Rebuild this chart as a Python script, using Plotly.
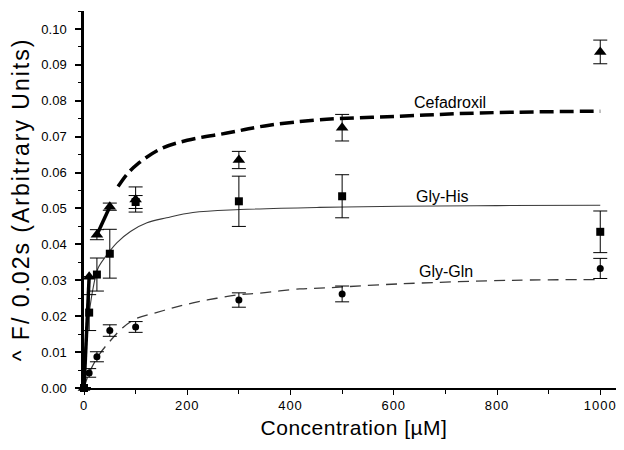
import plotly.graph_objects as go

# ---------------- data ----------------
conc = [0, 10, 25, 50, 100, 300, 500, 1000]

cef = [0.0, 0.031, 0.0427, 0.0505, 0.0525, 0.0635, 0.0725, 0.0936]
cef_err = [0, 0, 0.0014, 0.0010, 0.0035, 0.0024, 0.0037, 0.0033]

his = [0.0, 0.021, 0.0316, 0.0374, 0.0518, 0.0520, 0.0534, 0.0435]
his_err = [0, 0.0050, 0.0046, 0.0068, 0.0018, 0.0070, 0.0060, 0.0058]

gln = [0.0, 0.0042, 0.0087, 0.0160, 0.0170, 0.0245, 0.0262, 0.0333]
gln_err = [0, 0.0012, 0.0014, 0.0016, 0.0015, 0.0020, 0.0022, 0.0028]

# fitted curves
cef_fit_x = [66, 83, 103, 147, 200, 277, 350, 456, 611, 766, 1000]
cef_fit_y = [0.0561, 0.0595, 0.0623, 0.0665, 0.0690, 0.0710, 0.0730, 0.0747, 0.0757, 0.0766, 0.0771]
cef_seg_x = [0, 10, None, 25, 50]
cef_seg_y = [0.0, 0.031, None, 0.0427, 0.0505]

his_fit_x = [0, 5, 10, 18, 27, 44, 64, 90, 122, 160, 211, 302, 456, 611, 800, 1000]
his_fit_y = [0.0, 0.0130, 0.0207, 0.0281, 0.0333, 0.0370, 0.0405, 0.0436, 0.0460, 0.0474,
             0.0489, 0.0497, 0.0503, 0.0506, 0.0508, 0.0509]

gln_fit_x = [0, 10, 29, 50, 75, 102, 140, 172, 211, 257, 302, 340, 418, 456, 611, 830, 1000]
gln_fit_y = [0.0, 0.0042, 0.0092, 0.0130, 0.0168, 0.0194, 0.0210, 0.0223, 0.0237, 0.0250,
             0.0260, 0.0264, 0.0276, 0.0278, 0.0290, 0.0300, 0.0302]

labels = ["Cefadroxil", "Gly-His", "Gly-Gln"]
label_x = [709, 694, 701]
label_y = [0.0796, 0.0534, 0.0324]

x_ticks = [0, 200, 400, 600, 800, 1000]
y_ticks = [0.00, 0.01, 0.02, 0.03, 0.04, 0.05, 0.06, 0.07, 0.08, 0.09, 0.10]

x_title = "Concentration [µM]"
y_title = "^ F/ 0.02s (Arbitrary Units)"

FONT = "Liberation Sans, Arial, sans-serif"

fig = go.Figure()

# fit lines
fig.add_trace(go.Scatter(x=gln_fit_x, y=gln_fit_y, mode="lines", line_shape="spline",
                         line=dict(color="#3a3a3a", width=1.3, dash="11px,7px"),
                         hoverinfo="skip", showlegend=False))
fig.add_trace(go.Scatter(x=his_fit_x, y=his_fit_y, mode="lines", line_shape="spline",
                         line=dict(color="#3a3a3a", width=1.1),
                         hoverinfo="skip", showlegend=False))
fig.add_trace(go.Scatter(x=cef_fit_x, y=cef_fit_y, mode="lines", line_shape="spline",
                         line=dict(color="black", width=3.5, dash="14px,6px"),
                         hoverinfo="skip", showlegend=False))
fig.add_trace(go.Scatter(x=cef_seg_x, y=cef_seg_y, mode="lines",
                         line=dict(color="black", width=3.5),
                         hoverinfo="skip", showlegend=False, cliponaxis=False))

# data points
def pts(y, err, symbol, size):
    return go.Scatter(x=conc, y=y, mode="markers",
                      marker=dict(symbol=symbol, size=size, color="black"),
                      error_y=dict(type="data", array=err, visible=True, color="black",
                                   thickness=1, width=7),
                      cliponaxis=False, showlegend=False)

fig.add_trace(pts(gln, gln_err, "circle", 7))
fig.add_trace(pts(his, his_err, "square", 8))
fig.add_trace(pts(cef, cef_err, "triangle-up", 11))

for t, lx, ly in zip(labels, label_x, label_y):
    fig.add_annotation(x=lx, y=ly, text=t, showarrow=False,
                       font=dict(family=FONT, size=16, color="black"))

# the page body adds an 8px margin, so the figure is 8px smaller and margins shifted
fig.update_layout(
    width=616, height=442,
    margin=dict(l=76, r=0, t=3, b=62, autoexpand=False),
    plot_bgcolor="white", paper_bgcolor="white",
    font=dict(family=FONT, color="black"),
)
fig.update_xaxes(range=[0, 1046], tickvals=x_ticks,
                 ticktext=[f'<span style="letter-spacing:1px">{v}</span>' for v in x_ticks],
                 automargin=False,
                 showgrid=False, zeroline=False, showline=True, linecolor="black", linewidth=1.5,
                 ticks="outside", ticklen=5, tickwidth=1, tickcolor="black",
                 minor=dict(dtick=100, ticks="outside", ticklen=4, tickcolor="black", tickwidth=1),
                 tickfont=dict(size=13),
                 title=dict(text=f'<span style="letter-spacing:0.5px">{x_title}</span>',
                            font=dict(size=21), standoff=8))
fig.update_yaxes(range=[0, 0.105], tickvals=y_ticks, ticktext=[f"{v:.2f}" for v in y_ticks],
                 automargin=False, ticklabelstandoff=6,
                 showgrid=False, zeroline=False, showline=True, linecolor="black", linewidth=2.5,
                 ticks="outside", ticklen=6, tickwidth=1.5, tickcolor="black",
                 minor=dict(dtick=0.005, ticks="outside", ticklen=3, tickcolor="black", tickwidth=1),
                 tickfont=dict(size=13),
                 title=dict(text=f'<span style="letter-spacing:2px">{y_title}</span>',
                            font=dict(size=23), standoff=10))

fig.write_html("out.html")
